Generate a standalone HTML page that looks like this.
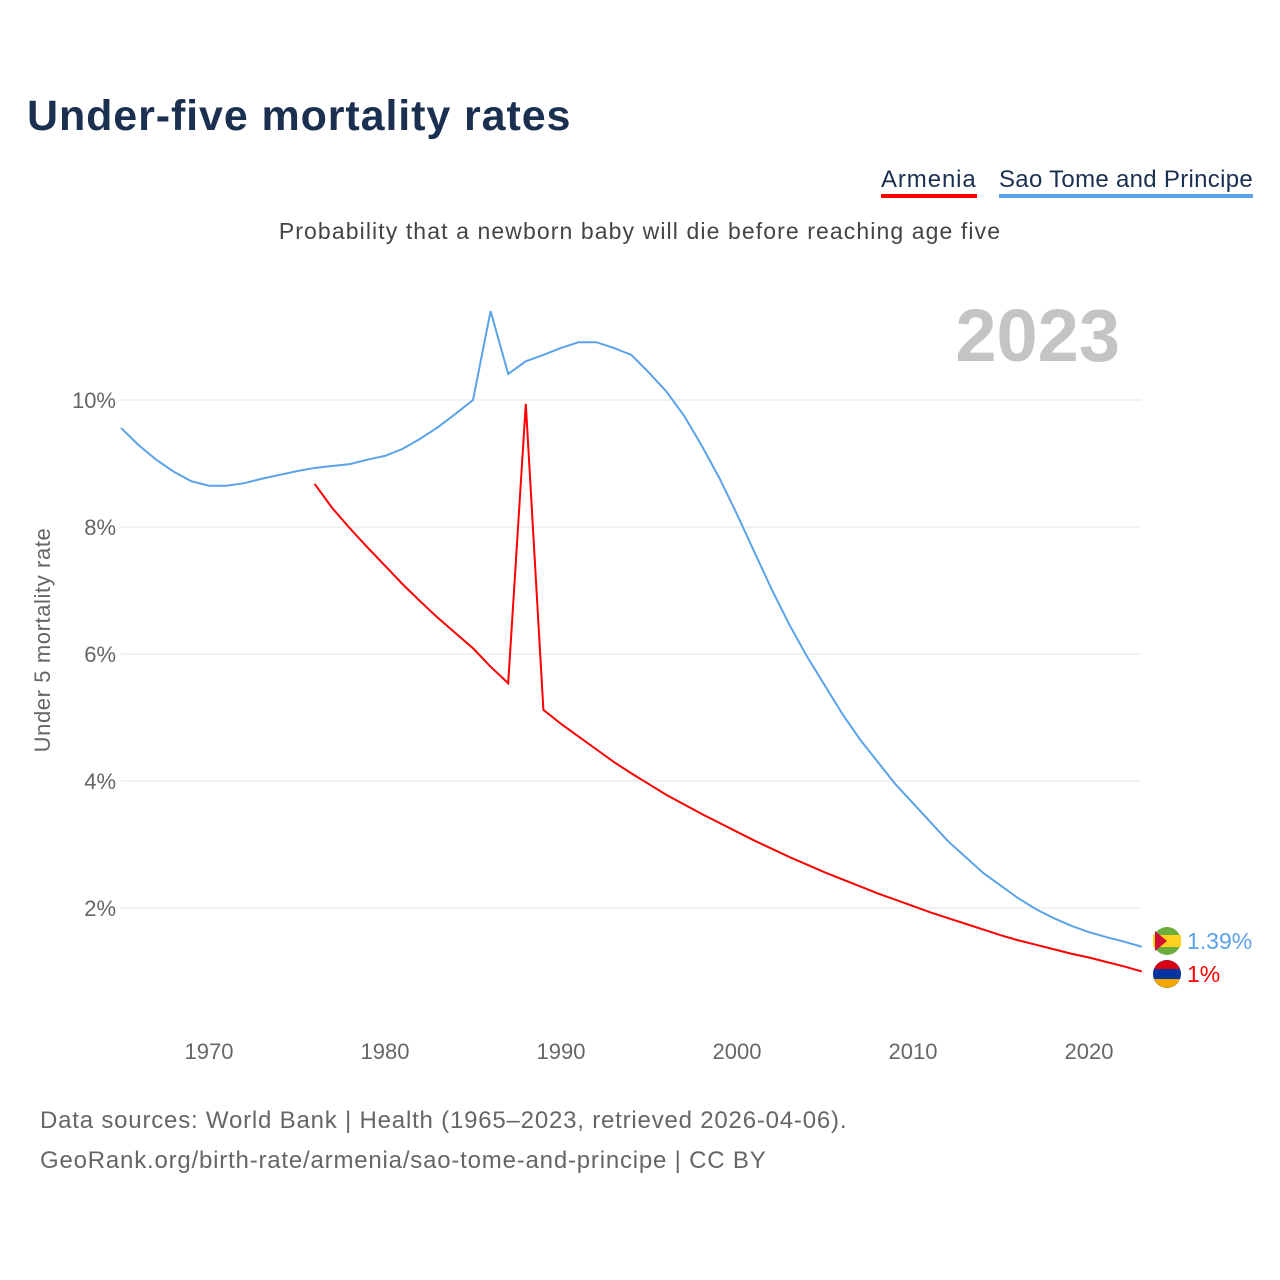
<!DOCTYPE html>
<html><head><meta charset="utf-8"><style>
body{margin:0;background:#fff;font-family:"Liberation Sans",sans-serif;}
#wrap{position:relative;width:1280px;height:1280px;overflow:hidden;}
.t{position:absolute;white-space:nowrap;}
</style></head><body>
<div id="wrap">
<div class="t" style="left:27px;top:92px;font-size:43px;font-weight:bold;color:#1b3050;letter-spacing:0.9px;">Under-five mortality rates</div>
<div class="t" style="left:881px;top:166px;font-size:24px;color:#1b3050;border-bottom:4px solid #f00;line-height:28px;letter-spacing:0.9px;">Armenia</div>
<div class="t" style="left:999px;top:166px;font-size:24px;color:#1b3050;border-bottom:4px solid #5ba3e8;line-height:28px;letter-spacing:0.3px;">Sao Tome and Principe</div>
<div class="t" style="left:0;width:1280px;text-align:center;top:218px;font-size:23px;color:#444;letter-spacing:1.1px;">Probability that a newborn baby will die before reaching age five</div>
<div class="t" style="left:40px;top:1107px;font-size:24px;color:#666;letter-spacing:0.8px;">Data sources: World Bank | Health (1965–2023, retrieved 2026-04-06).</div>
<div class="t" style="left:40px;top:1147px;font-size:24px;color:#666;letter-spacing:0.8px;">GeoRank.org/birth-rate/armenia/sao-tome-and-principe | CC BY</div>
<svg id="chart" width="1280" height="1280" style="position:absolute;left:0;top:0"></svg>
</div>
<script>
const years=[];for(let y=1965;y<=2023;y++)years.push(y);
const yTicks=[2,4,6,8,10];
const xTicks=[1970,1980,1990,2000,2010,2020];
const stpValues=[9.56,9.29,9.06,8.87,8.72,8.65,8.65,8.69,8.76,8.82,8.88,8.93,8.96,8.99,9.06,9.12,9.23,9.39,9.57,9.78,10.0,11.4,10.41,10.61,10.71,10.82,10.91,10.91,10.82,10.71,10.43,10.13,9.75,9.28,8.77,8.2,7.6,7.0,6.45,5.95,5.5,5.05,4.65,4.3,3.95,3.65,3.35,3.05,2.8,2.55,2.35,2.15,1.98,1.84,1.72,1.62,1.54,1.47,1.39];
const armYears=[];for(let y=1976;y<=2023;y++)armYears.push(y);
const armValues=[8.68,8.3,7.98,7.68,7.39,7.1,6.83,6.57,6.33,6.09,5.8,5.54,9.94,5.12,4.9,4.7,4.5,4.3,4.12,3.95,3.78,3.63,3.48,3.34,3.2,3.06,2.93,2.8,2.68,2.56,2.45,2.34,2.23,2.13,2.03,1.93,1.84,1.75,1.66,1.57,1.49,1.42,1.35,1.28,1.22,1.15,1.08,1.0];
const X=y=>121+(y-1965)*17.6;
const Y=v=>1035-v*63.5;
const svg=document.getElementById('chart');const NS='http://www.w3.org/2000/svg';
function mk(t,a){const e=document.createElementNS(NS,t);for(const k in a)e.setAttribute(k,a[k]);svg.appendChild(e);return e;}
yTicks.forEach(v=>{
 const l=mk('line',{x1:121,x2:1141,y1:Y(v),y2:Y(v),stroke:'#e6e6e6','stroke-width':1});
 
 
 const t=mk('text',{x:116,y:Y(v)+8,'text-anchor':'end','font-size':22,fill:'#666','font-family':'Liberation Sans, sans-serif'});t.textContent=v+'%';
 
 
});
xTicks.forEach(v=>{
 const t=mk('text',{x:X(v),y:1059,'text-anchor':'middle','font-size':22,fill:'#666','font-family':'Liberation Sans, sans-serif'});t.textContent=v;
 
 
});
const yt=mk('text',{x:0,y:0,transform:'translate(50,640) rotate(-90)','text-anchor':'middle','font-size':22,fill:'#666','font-family':'Liberation Sans, sans-serif','letter-spacing':'0.6'});yt.textContent='Under 5 mortality rate';


const yr=mk('text',{x:1120,y:361,'text-anchor':'end','font-size':74,'font-weight':'bold',fill:'#c4c4c4','font-family':'Liberation Sans, sans-serif'});yr.textContent='2023';


const p1=mk('polyline',{points:years.map((y,i)=>X(y)+','+Y(stpValues[i])).join(' '),fill:'none',stroke:'#5ba3e8','stroke-width':2});


const p2=mk('polyline',{points:armYears.map((y,i)=>X(y)+','+Y(armValues[i])).join(' '),fill:'none',stroke:'#f00','stroke-width':2});


const f1=mk('circle',{cx:1167,cy:941,r:14,fill:'#6cad3c'});


mk('rect',{x:1153,y:935,width:28,height:12,fill:'#ffd21f'});
mk('path',{d:'M1155,931 L1167,941 L1155,951 Z',fill:'#d21034'});
const f2=mk('circle',{cx:1167,cy:974,r:14,fill:'#0033a0'});


mk('path',{d:'M1154,969 A14,14 0 0 1 1180,969 Z',fill:'#d90012'});
mk('path',{d:'M1154,979 A14,14 0 0 0 1180,979 Z',fill:'#f2a800'});
const v1=mk('text',{x:1187,y:949,'font-size':23,fill:'#5ba3e8','font-family':'Liberation Sans, sans-serif'});v1.textContent='1.39%';


const v2=mk('text',{x:1187,y:982,'font-size':23,fill:'#f00','font-family':'Liberation Sans, sans-serif'});v2.textContent='1%';


</script>
</body></html>
